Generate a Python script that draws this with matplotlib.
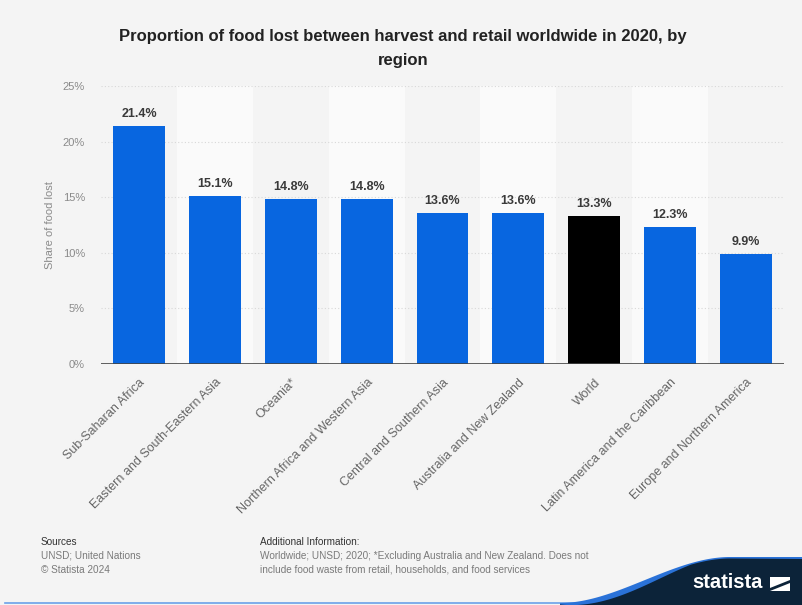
import numpy as np
import matplotlib
matplotlib.use('Agg')
import matplotlib.pyplot as plt
from matplotlib.patches import Polygon, Rectangle
from matplotlib.lines import Line2D

regions = [
    "Sub-Saharan Africa",
    "Eastern and South-Eastern Asia",
    "Oceania*",
    "Northern Africa and Western Asia",
    "Central and Southern Asia",
    "Australia and New Zealand",
    "World",
    "Latin America and the Caribbean",
    "Europe and Northern America",
]
share_lost = [21.4, 15.1, 14.8, 14.8, 13.6, 13.6, 13.3, 12.3, 9.9]
y_ticks = [0, 5, 10, 15, 20, 25]

BG = '#f4f4f4'
BAND = '#fafafa'
BLUE = '#0866e0'
NAVY = '#0c2339'

plt.rcParams['font.family'] = ['Liberation Sans', 'DejaVu Sans']

W, H = 803, 605
fig = plt.figure(figsize=(W / 100, H / 100), dpi=100)
fig.patch.set_facecolor(BG)
ax = fig.add_axes([101 / W, 1 - 364 / H, 683 / W, 278 / H])
ax.set_facecolor(BG)

x = np.arange(len(regions))
ax.set_xlim(-0.5, len(regions) - 0.5)
ax.set_ylim(0, 25)

# alternating column bands
for i in x:
    if i % 2 == 1:
        ax.axvspan(i - 0.5, i + 0.5, color=BAND, zorder=0, lw=0)

for t in y_ticks[1:]:
    ax.axhline(t, color='#d8d8d8', lw=0.8, ls=(0, (1, 2)), zorder=1)

colors = ['#000000' if r == 'World' else BLUE for r in regions]
bars = ax.bar(x, share_lost, width=0.684, color=colors, zorder=2)
for b, v in zip(bars, share_lost):
    ax.text(b.get_x() + b.get_width() / 2, v + 0.55, f"{v:.1f}%",
            ha='center', va='bottom', fontsize=9, fontweight='bold',
            color='#3a3a3a', zorder=3)

ax.axhline(0, color='#444444', lw=1.2, zorder=3)

for s in ax.spines.values():
    s.set_visible(False)
ax.set_yticks(y_ticks)
ax.set_yticklabels([f"{t}%" for t in y_ticks], fontsize=8, color='#8a8a8a')
ax.set_xticks(x)
ax.set_xticklabels(regions, rotation=45, ha='right', rotation_mode='anchor',
                   fontsize=9, color='#666666')
ax.tick_params(axis='both', length=0)
ax.tick_params(axis='y', pad=11.5)
ax.tick_params(axis='x', pad=9)
ax.set_ylabel("Share of food lost", fontsize=8, color='#8a8a8a')
ax.yaxis.set_label_coords(-46 / 683, 0.5)

fig.text(403 / W, 1 - 36 / H,
         "Proportion of food lost between harvest and retail worldwide in 2020, by",
         ha='center', va='center', fontsize=12, fontweight='bold', color='#222222')
fig.text(403 / W, 1 - 61 / H, "region",
         ha='center', va='center', fontsize=12, fontweight='bold', color='#222222')

# footer
foot = dict(fontsize=7.2, va='center')
fig.text(41 / W, 1 - 542 / H, "Sources", color='#333333', **foot)
fig.text(41 / W, 1 - 556 / H, "UNSD; United Nations", color='#7a7a7a', **foot)
fig.text(41 / W, 1 - 570 / H, "\u00a9 Statista 2024", color='#7a7a7a', **foot)
fig.text(260 / W, 1 - 542 / H, "Additional Information:", color='#333333', **foot)
fig.text(260 / W, 1 - 556 / H,
         "Worldwide; UNSD; 2020; *Excluding Australia and New Zealand. Does not",
         color='#7a7a7a', **foot)
fig.text(260 / W, 1 - 570 / H,
         "include food waste from retail, households, and food services",
         color='#7a7a7a', **foot)

# logo corner: S-shaped navy wave with a blue band on top
to_fig = lambda pts: [(px / W, 1 - py / H) for px, py in pts]
t = np.linspace(0, 1, 120)
s = t * t * (3 - 2 * t)
wx = 560 + (730 - 560) * t
top_y = 603 - (603 - 557) * s
thick = 1.5 + 4.5 * np.sin(np.pi * np.clip(t * 1.3, 0, 1))
low_y = top_y + thick
top = list(zip(wx, top_y)) + [(W, 557)]
low = list(zip(wx, low_y)) + [(W, 559)]
fig.patches.append(Polygon(to_fig(top + [(W, H), (560, H)]), closed=True,
                           fc='#2a72d8', ec='none',
                           transform=fig.transFigure, zorder=5))
fig.patches.append(Polygon(to_fig(low + [(W, H), (560, H)]), closed=True,
                           fc=NAVY, ec='none',
                           transform=fig.transFigure, zorder=6))
fig.lines.append(Line2D([5 / W, 575 / W], [1 - 603 / H] * 2,
                        color='#6aa0e8', lw=1.2,
                        transform=fig.transFigure, zorder=4))
fig.text(727 / W, 1 - 583 / H, "statista", fontsize=14.5, fontweight='bold',
         color='white', ha='center', va='center', zorder=7)
fig.patches.append(Rectangle((770 / W, 1 - 591 / H), 20 / W, 14 / H, fc='white',
                             ec='none', transform=fig.transFigure, zorder=7))
fig.patches.append(Polygon(to_fig([(770, 588), (790, 580), (790, 583), (770, 591)]),
                           closed=True, fc=NAVY, ec='none',
                           transform=fig.transFigure, zorder=8))

fig.savefig('out.png', dpi=100, facecolor=fig.get_facecolor())
